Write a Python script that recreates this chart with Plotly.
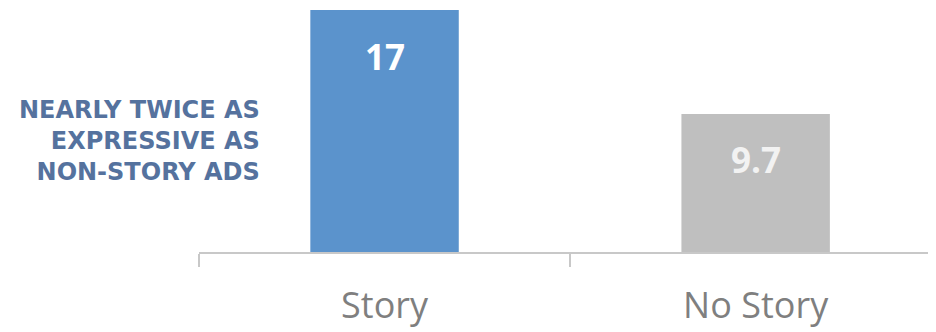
import plotly.graph_objects as go

categories = ["Story", "No Story"]
values = [17, 9.7]
value_labels = ["17", "9.7"]
bar_colors = ["#5b93cc", "#bfbfbf"]
label_colors = ["#ffffff", "#f2f2f2"]
side_text = "NEARLY TWICE AS<br>EXPRESSIVE AS<br>NON-STORY ADS"

fig = go.Figure()
fig.add_trace(go.Bar(
    x=categories, y=values, marker=dict(color=bar_colors, line=dict(width=0)),
    width=0.4, hoverinfo="skip",
))
for c, v, t, col in zip(categories, values, value_labels, label_colors):
    fig.add_annotation(x=c, y=v, text=t, showarrow=False, yanchor="middle",
                       yshift=-46, font=dict(family="Open Sans", size=35, color=col, weight="bold"))

fig.add_annotation(xref="paper", yref="paper", x=0.0855, y=0.459, xanchor="right", yanchor="middle",
                   text=side_text, showarrow=False, align="right",
                   font=dict(family="DejaVu Sans", size=24, color="#55729e", weight="bold"))

fig.update_layout(
    width=936, height=332, margin=dict(l=191, r=8, t=2, b=88),
    plot_bgcolor="white", paper_bgcolor="white", showlegend=False,
    xaxis=dict(type="category", range=[-0.5, 1.486], showline=True, linecolor="#c8c8c8", linewidth=1.5,
               ticks="outside", tickson="boundaries", ticklen=13, tickcolor="#c8c8c8", tickwidth=1.5,
               tickfont=dict(family="Open Sans", size=36, color="#7f7f7f"), ticklabelstandoff=21,
               showgrid=False, zeroline=False),
    yaxis=dict(range=[0, 17], visible=False, showgrid=False, zeroline=False),
)
fig.write_html("out.html")
